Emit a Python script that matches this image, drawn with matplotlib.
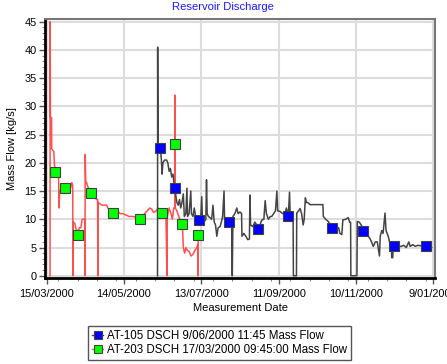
import datetime as dt

import matplotlib
matplotlib.use("Agg")
import matplotlib.pyplot as plt
import matplotlib.dates as mdates
from matplotlib.lines import Line2D
from matplotlib.ticker import MultipleLocator, FixedLocator

plt.rcParams['font.family'] = ['Liberation Sans', 'DejaVu Sans']

# day offsets are counted from 15/03/2000
start = dt.datetime(2000, 3, 15)

# AT-203 DSCH (red line, green markers)
at203_days = [2.6, 2.7, 2.9, 3.8, 3.9, 5.5, 6.4, 7.5, 8.5, 9.2, 9.6, 10.1, 11.5, 13.5, 14.2, 15.5, 17.0, 18.5,
              19.5, 20.2, 20.4, 20.6, 21.8, 22.5, 23.5, 24.3, 25.2, 26.5, 27.5, 29.5, 29.7, 29.9, 30.3, 31.0,
              31.5, 32.5, 33.5, 34.4, 36.0, 37.5, 38.5, 39.5, 39.7, 39.9, 41.0, 43.0, 46.5, 47.5, 49.0, 51.4,
              53.0, 55.0, 57.0, 59.0, 61.0, 64.0, 67.0, 70.0, 72.4, 74.0, 76.0, 78.0, 80.0, 81.5, 83.0, 85.0,
              86.5, 88.0, 89.5, 91.0, 92.5, 93.3, 93.6, 95.0, 96.5, 97.5, 98.5, 99.4, 99.5, 99.6, 99.8, 101.0,
              102.5, 104.0, 105.3, 106.0, 107.0, 108.0, 109.0, 110.5, 112.0, 113.5, 115.0, 116.5, 117.2,
              117.4, 117.6]
at203_flow = [0, 45, 28, 28, 22.5, 22, 18.4, 18, 18, 17.5, 12, 15, 15.5, 15, 15.5, 15, 15.5, 15.5,
              16.5, 16, 0, 9.5, 9.3, 8.5, 8, 7.2, 8.5, 8.5, 10, 10, 0, 21.5, 16.5, 16.5,
              16, 15.5, 15, 14.5, 15, 15, 13.5, 13.5, 0, 13, 12.8, 12.5, 12.5, 12, 11.5, 11.2,
              11.3, 11.5, 11, 11, 10.8, 10.5, 10.5, 10.3, 10.1, 10.5, 11, 11.5, 12, 11.8, 11.2, 11.5,
              12, 11.3, 11.2, 11.5, 11, 0, 10.5, 12, 11, 10, 12, 12, 32, 23.3, 12, 11.5,
              10.5, 9.5, 9.1, 5, 4, 5, 4.5, 4.3, 3.5, 3.8, 4.5, 5, 5.5,
              0, 7.2]
at203_mark_days = [6.4, 14.2, 24.3, 34.4, 51.4, 72.4, 89.5, 99.6, 105.3, 117.6]
at203_mark_flow = [18.4, 15.5, 7.2, 14.6, 11.2, 10.1, 11.2, 23.3, 9.1, 7.2]

# AT-105 DSCH (dark line, blue markers)
at105_days = [86.0, 86.1, 86.3, 88.2, 89.0, 89.5, 90.2, 91.5, 93.0, 94.0, 95.0, 96.0, 97.0, 98.0, 98.7,
              99.5, 100.3, 101.0, 102.0, 103.0, 104.0, 105.0, 106.0, 106.8, 108.0, 108.8, 109.3, 110.5,
              111.8, 112.3, 113.5, 114.5, 115.5, 116.5, 118.2, 119.5, 120.3, 120.8, 122.0, 123.5, 124.0,
              124.5, 125.5, 126.7, 128.0, 129.0, 130.0, 131.0, 132.0, 133.0, 134.5, 135.5, 136.5, 137.6,
              138.0, 139.7, 141.7, 143.5, 144.0, 144.5, 146.0, 147.5, 148.5, 150.0, 151.2, 151.5, 153.0,
              154.5, 156.0, 157.3, 157.7, 158.2, 160.0, 161.5, 163.0, 164.2, 165.5, 167.0, 168.5, 169.5,
              170.5, 172.0, 173.5, 174.6, 176.0, 177.5, 178.6, 179.2, 181.0, 183.0, 185.0, 186.0, 187.5,
              188.4, 188.9, 190.0, 191.2, 191.4, 193.8, 194.0, 195.5, 196.6, 197.8, 199.0, 199.8, 200.7,
              201.5, 203.0, 204.3, 210.0, 214.3, 214.6, 216.5, 218.5, 220.0, 221.6, 223.5, 225.0, 226.5,
              227.5, 229.0, 229.8, 232.0, 234.0, 235.0, 235.8, 236.0, 240.7, 241.0, 242.5, 244.0, 245.7,
              247.0, 248.5, 249.6, 251.0, 252.0, 253.4, 255.0, 256.5, 258.2, 258.8, 260.0, 261.0, 262.0,
              262.5, 263.3, 265.0, 266.5, 267.5, 267.7, 268.5, 268.8, 269.7, 272.0, 275.0, 277.0, 279.0,
              280.0, 281.0, 282.0, 284.0, 286.0, 288.0, 290.0, 292.0, 294.1, 296.0, 298.7]
at105_flow = [0, 40.5, 22.6, 22.6, 20.5, 18, 20, 20.5, 20.5, 20, 18.5, 19, 17.5, 18, 16.5,
              15.6, 14, 13, 12.5, 13.5, 12, 13, 14.5, 10.5, 11, 15.5, 10.5, 11,
              15, 11, 10.5, 12, 10.5, 10, 9.8, 10, 14, 10, 9.5, 10, 17,
              11, 10.5, 10.3, 10, 12.5, 9.5, 9, 7, 8.5, 8.7, 9.5, 10.5, 15,
              10, 9.4, 9.5, 9.5, 0, 10.5, 11, 12, 11, 11.3, 11, 7, 7.5,
              7, 6.4, 6.5, 14.3, 9, 8.7, 9.5, 9, 8.3, 9, 9.9, 10, 13.3,
              11, 10, 10.5, 10.5, 11, 11.5, 15, 11.5, 11.4, 11, 11.2, 12, 10.6,
              14.8, 11, 10.5, 10.5, 0, 0, 11.1, 11.5, 11.9, 11, 9, 10, 13.8,
              13, 12.9, 12.6, 12.6, 12.6, 10.5, 10, 9.6, 9, 8.5, 9, 8.5, 8.5,
              7.5, 7.3, 9.9, 10, 10.3, 9.5, 9.5, 0, 0, 9.6, 9.5, 9, 8.0,
              8, 7, 7, 6.5, 6, 5.2, 6, 6, 3.5, 7, 8, 7.5, 10,
              11.1, 8, 7, 5.5, 5.5, 3.2, 3.2, 5.3, 5.3, 5.2, 5.2, 5.4, 5.0,
              5.5, 6.0, 5.2, 5.5, 5.2, 5.4, 5.3, 5.5, 5.2, 5.3, 5.0]
at105_mark_days = [88.2, 99.5, 118.2, 141.7, 164.2, 187.5, 221.6, 245.7, 269.7, 294.1]
at105_mark_flow = [22.6, 15.6, 9.8, 9.5, 8.3, 10.6, 8.5, 8.0, 5.3, 5.2]

tick_days = [0, 60, 120, 180, 240, 300]


def to_dates(days):
    return [start + dt.timedelta(days=d) for d in days]


red = '#ff5050'
dark = '#444444'

fig = plt.figure(figsize=(4.47, 3.64), dpi=100)
ax = fig.add_axes([0.1007, 0.2363, 0.8725, 0.7117])

ax.plot(to_dates(at203_days), at203_flow, color=red, lw=1.1, zorder=3)
ax.plot(to_dates(at105_days), at105_flow, color=dark, lw=1.1, zorder=3)
ax.plot(to_dates(at203_mark_days), at203_mark_flow, ls='none', marker='s', ms=6.5,
        mfc='#00ff00', mec='#404040', mew=0.8, zorder=4)
ax.plot(to_dates(at105_mark_days), at105_mark_flow, ls='none', marker='s', ms=6.5,
        mfc='#0000ff', mec='#404040', mew=0.8, zorder=4)

# axes ranges and ticks
ax.set_xlim(start - dt.timedelta(days=1.3), start + dt.timedelta(days=301.3))
ax.set_ylim(-0.4, 45.5)
ax.xaxis.set_major_locator(FixedLocator(mdates.date2num(to_dates(tick_days))))
ax.xaxis.set_minor_locator(MultipleLocator(15))
ax.set_xticklabels([f"{d.day}/{d.month:02d}/{d.year}" for d in to_dates(tick_days)])
ax.yaxis.set_major_locator(MultipleLocator(5))
ax.yaxis.set_minor_locator(MultipleLocator(1))
ax.tick_params(which='major', length=4, width=1, color='#555555', labelsize=7.9, pad=2)
ax.tick_params(axis='x', which='major', pad=4)
ax.tick_params(which='minor', length=2.5, width=0.8, color='#888888')

ax.grid(True, which='major', color='#dcdcdc', lw=1.5)
ax.set_axisbelow(True)

for side in ['left', 'bottom']:
    ax.spines[side].set_color('black')
    ax.spines[side].set_linewidth(2)
for side in ['top', 'right']:
    ax.spines[side].set_color('#777777')
    ax.spines[side].set_linewidth(1.5)

fig.text(0.499, 0.981, "Reservoir Discharge", color='#1a1aff', fontsize=8.1, ha='center', va='center')
ax.set_xlabel("Measurement Date", fontsize=8, labelpad=3)
ax.set_ylabel("Mass Flow [kg/s]", fontsize=8, labelpad=5)

handles = [
    Line2D([], [], color=dark, lw=1, marker='s', ms=6, mfc='#0000ff', mec='#404040', mew=0.8),
    Line2D([], [], color=red, lw=1, marker='s', ms=6, mfc='#00ff00', mec='#404040', mew=0.8),
]
labels = ["AT-105 DSCH 9/06/2000 11:45 Mass Flow", "AT-203 DSCH 17/03/2000 09:45:00 Mass Flow"]
leg = fig.legend(handles, labels, loc='center', bbox_to_anchor=(0.492, 0.0577), fontsize=8.3,
                 frameon=True, fancybox=False, edgecolor='#555555', framealpha=1,
                 handlelength=0.9, handletextpad=0.4, borderpad=0.35, labelspacing=0.25)
leg.get_frame().set_linewidth(1)

fig.savefig("out.png", dpi=100)
